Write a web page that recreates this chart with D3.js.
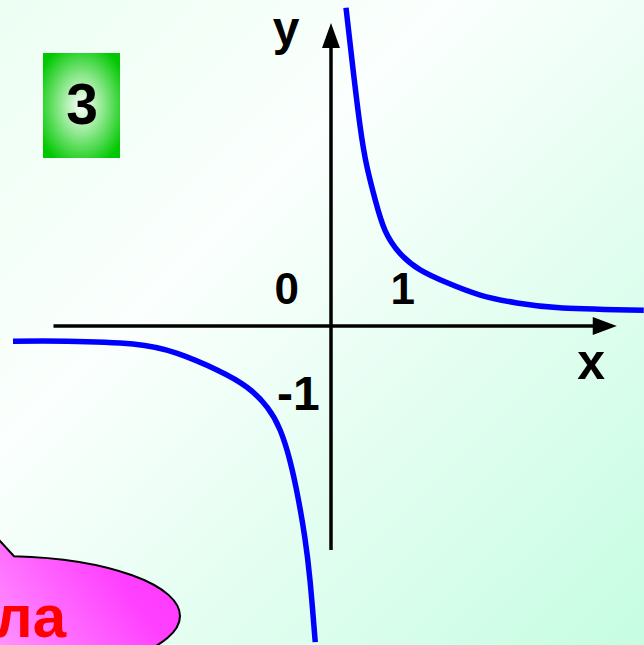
<!DOCTYPE html>
<html><head><meta charset="utf-8">
<script src="https://cdn.jsdelivr.net/npm/d3@7"></script>
<style>html,body{margin:0;padding:0;overflow:hidden;background:#fff}</style>
</head><body>
<script>
// ---- data (in graph units) ----
const upperX = [0.20, 0.29, 0.39, 0.48, 0.59, 0.72, 0.92, 1.19, 1.55, 1.99, 2.48, 3.09, 4.17];
const upperY = [4.42, 3.60, 2.76, 2.21, 1.75, 1.33, 1.01, 0.78, 0.60, 0.43, 0.32, 0.25, 0.22];
const lowerX = [-4.24, -3.52, -2.64, -2.05, -1.52, -1.12, -0.85, -0.68, -0.55, -0.44, -0.35, -0.28, -0.21];
const lowerY = [-0.21, -0.21, -0.25, -0.38, -0.61, -0.85, -1.13, -1.44, -1.86, -2.38, -2.93, -3.53, -4.39];
const tickLabels = ["0", "1", "-1"];
const axisLabels = ["x", "y"];
const cardLabel = "3";
const bubbleText = "ла";

const W = 644, H = 645;
const svg = d3.select("body").append("svg").attr("width", W).attr("height", H);
const defs = svg.append("defs");

const bg = defs.append("linearGradient").attr("id","bg").attr("x1","0").attr("y1","0").attr("x2","1").attr("y2","1");
bg.append("stop").attr("offset","0").attr("stop-color","#ecfff3");
bg.append("stop").attr("offset","0.35").attr("stop-color","#fbfffd");
bg.append("stop").attr("offset","1").attr("stop-color","#c6fde2");
svg.append("rect").attr("width",W).attr("height",H).attr("fill","url(#bg)");

const x = d3.scaleLinear().domain([-4.413, 4.173]).range([0, W]);
const y = d3.scaleLinear().domain([4.528, -4.43]).range([0, H]);

// green card
const rg = defs.append("radialGradient").attr("id","card").attr("cx","0.5").attr("cy","0.5").attr("r","0.62");
rg.append("stop").attr("offset","0").attr("stop-color","#ffffff");
rg.append("stop").attr("offset","0.45").attr("stop-color","#8ee88e");
rg.append("stop").attr("offset","1").attr("stop-color","#00c800");
svg.append("rect").attr("x",43).attr("y",53).attr("width",77).attr("height",105).attr("fill","url(#card)");
svg.append("text").attr("x",82).attr("y",124).attr("text-anchor","middle")
  .attr("font-family","Liberation Sans, Arial, sans-serif").attr("font-weight","bold").attr("font-size",57)
  .attr("fill","#000").text(cardLabel);

// bubble
const pg = defs.append("linearGradient").attr("id","pink").attr("x1","0").attr("y1","0.3").attr("x2","1").attr("y2","0");
pg.append("stop").attr("offset","0").attr("stop-color","#ffd0ff");
pg.append("stop").attr("offset","0.75").attr("stop-color","#ff40ff");
pg.append("stop").attr("offset","1").attr("stop-color","#ff33ff");
const bcx = 0, bcy = 616, brx = 180, bry = 60;
const tailA = bcx + 14;
const angA = Math.acos((tailA - bcx)/brx);
const yA = bcy - bry*Math.sin(angA);
const bpath = `M${-10},${530} L${tailA},${yA} A${brx},${bry} 0 0 1 ${bcx+brx},${bcy} A${brx},${bry} 0 0 1 ${bcx-brx},${bcy} Z`;
svg.append("path").attr("d", bpath).attr("fill","url(#pink)").attr("stroke","#000").attr("stroke-width",2);
svg.append("text").attr("x",66).attr("y",637).attr("text-anchor","end")
  .attr("font-family","Liberation Sans, Arial, sans-serif").attr("font-weight","bold").attr("font-size",60)
  .attr("fill","#ff0000").text(bubbleText);

// axes
const g = svg.append("g");
g.append("line").attr("x1",x(-3.7)).attr("x2",x(3.55)).attr("y1",y(0)).attr("y2",y(0))
  .attr("stroke","#000").attr("stroke-width",3.5);
g.append("path").attr("d",`M${x(3.49)},${y(0)-9} L${x(3.81)},${y(0)} L${x(3.49)},${y(0)+9} Z`).attr("fill","#000");
g.append("line").attr("x1",x(0)).attr("x2",x(0)).attr("y1",y(-3.11)).attr("y2",y(3.9))
  .attr("stroke","#000").attr("stroke-width",3.5);
g.append("path").attr("d",`M${x(0)-9},${y(3.86)} L${x(0)},${y(4.21)} L${x(0)+9},${y(3.86)} Z`).attr("fill","#000");

// curves
const line = d3.line().x(d=>x(d[0])).y(d=>y(d[1])).curve(d3.curveNatural);
const up = upperX.map((v,i)=>[v, upperY[i]]);
const lo = lowerX.map((v,i)=>[v, lowerY[i]]);
[up, lo].forEach(pts => svg.append("path").attr("d", line(pts)).attr("fill","none")
  .attr("stroke","#0000ff").attr("stroke-width",5.5).attr("stroke-linecap","butt"));

// labels
const font = "Liberation Sans, Arial, sans-serif";
const lab = (t, px, py, size, anchor) => svg.append("text").attr("x",px).attr("y",py)
  .attr("text-anchor",anchor).attr("font-family",font).attr("font-weight","bold")
  .attr("font-size",size).attr("fill","#000").text(t);
lab(tickLabels[0], x(-0.59), y(0.31), 44, "middle");
lab(tickLabels[1], x(1.12), y(0.31), 44, "end");
lab(tickLabels[2], x(-0.15), y(-1.17), 48, "end");
lab(axisLabels[0], x(3.47), y(-0.74), 50, "middle");
lab(axisLabels[1], x(-0.6), y(3.9), 48, "middle");
</script>
</body></html>
